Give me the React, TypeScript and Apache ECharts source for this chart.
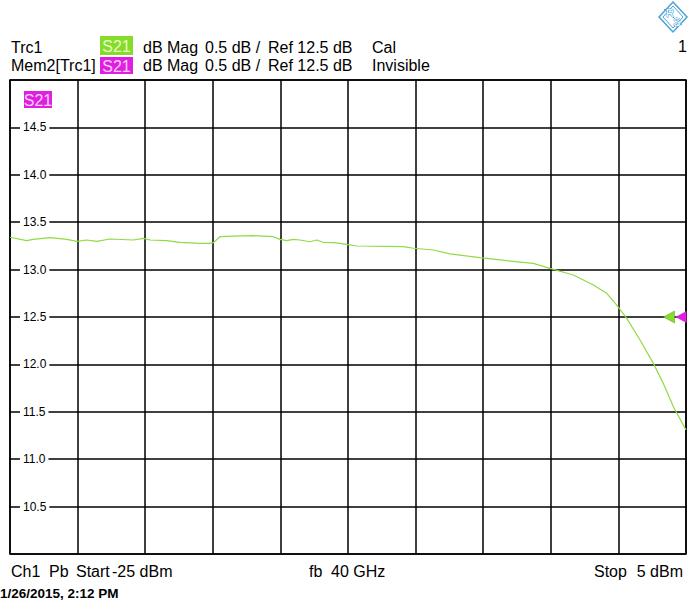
import React, { useEffect, useRef } from "react";
import * as echarts from "echarts";

// ---- data ----
const START_DBM = -25;
const STOP_DBM = 5;
const REF_LEVEL_DB = 12.5;
const Y_TICKS = [10, 10.5, 11, 11.5, 12, 12.5, 13, 13.5, 14, 14.5, 15];

const POWER_DBM = [
  -25.0, -24.26, -23.97, -23.22, -22.48, -22.04, -21.6, -21.15, -20.56, -19.53,
  -19.08, -18.79, -18.05, -17.46, -16.57, -16.12, -15.98, -15.68, -15.09, -14.2,
  -13.31, -13.02, -12.72, -12.43, -12.13, -11.69, -11.39, -11.1, -10.65, -10.36,
  -10.06, -9.61, -7.55, -7.1, -6.21, -5.47, -4.14, -2.96, -1.78, -1.04,
  0.0, 0.89, 1.48, 1.92, 2.37, 2.96, 3.55, 3.99, 4.44, 5.0,
];
const GAIN_DB = [
  13.341, 13.305, 13.319, 13.337, 13.319, 13.298, 13.312, 13.298, 13.323, 13.312,
  13.33, 13.312, 13.305, 13.288, 13.277, 13.277, 13.284, 13.347, 13.354, 13.358,
  13.347, 13.319, 13.305, 13.319, 13.312, 13.294, 13.312, 13.288, 13.284, 13.277,
  13.267, 13.249, 13.242, 13.225, 13.207, 13.165, 13.126, 13.094, 13.066, 13.013,
  12.943, 12.838, 12.75, 12.627, 12.486, 12.257, 12.011, 11.8, 11.554, 11.308,
];

const HEADER_ROW1 = ["Trc1", "S21", "dB Mag", "0.5 dB /", "Ref 12.5 dB", "Cal"];
const HEADER_ROW2 = ["Mem2[Trc1]", "S21", "dB Mag", "0.5 dB /", "Ref 12.5 dB", "Invisible"];
const FOOTER = ["Ch1", "Pb", "Start", "-25 dBm", "fb", "40 GHz", "Stop", "5 dBm"];
const DATE_TEXT = "1/26/2015, 2:12 PM";
const CHANNEL_NO = "1";

const GREEN = "#86dc2a";
const TRACE = "#90da44";
const MAGENTA = "#e020e0";
const LOGO = "#4aa3d6";
const FONT = "'Liberation Sans', Arial, sans-serif";

export default function App() {
  const ref = useRef<HTMLDivElement>(null);
  useEffect(() => {
    if (!ref.current) return;
    const chart = echarts.init(ref.current, undefined, { renderer: "svg" });
    const span = STOP_DBM - START_DBM;
    const txt = (text: string, x: number, y: number, extra: any = {}) => ({
      type: "text",
      x,
      y,
      z: 10,
      style: {
        text,
        fontSize: 16,
        fontFamily: FONT,
        fill: "#000",
        verticalAlign: "middle",
        ...extra,
      },
    });
    const box = (x: number, y: number, w: number, h: number, color: string, textColor: string, label: string) => ({
      type: "group",
      z: 10,
      children: [
        { type: "rect", shape: { x, y, width: w, height: h }, style: { fill: color } },
        txt(label, x + w / 2, y + h / 2 + 0.5, { fill: textColor, align: "center" }),
      ],
    });
    const colX = [11, 102, 143, 205, 268, 372];
    const option: any = {
      animation: false,
      backgroundColor: "#fff",
      grid: {
        left: 10,
        top: 80,
        width: 676,
        height: 474,
        show: true,
        borderColor: "#000",
        borderWidth: 1.5,
        backgroundColor: "#fff",
      },
      xAxis: {
        type: "value",
        min: 0,
        max: span,
        interval: 3,
        axisLine: { show: false },
        axisTick: { show: false },
        axisLabel: { show: false },
        splitLine: { show: true, lineStyle: { color: "#000", width: 1.5 } },
      },
      yAxis: {
        type: "value",
        min: Y_TICKS[0],
        max: Y_TICKS[Y_TICKS.length - 1],
        interval: 0.5,
        axisLine: { show: false },
        axisTick: { show: false },
        axisLabel: {
          inside: true,
          margin: 10,
          showMinLabel: false,
          showMaxLabel: false,
          formatter: (v: number) => v.toFixed(1),
          color: "#000",
          fontSize: 12,
          fontFamily: FONT,
          backgroundColor: "#fff",
          padding: [0, 3],
        },
        splitLine: { show: true, lineStyle: { color: "#000", width: 1.5 } },
      },
      series: [
        {
          type: "line",
          data: POWER_DBM.map((p, i) => [p - START_DBM, GAIN_DB[i]]),
          showSymbol: false,
          lineStyle: { color: TRACE, width: 1.2 },
          z: 5,
          markPoint: {
            silent: true,
            label: { show: false },
            data: [
              {
                coord: [span, REF_LEVEL_DB],
                symbol: "triangle",
                symbolRotate: 90,
                symbolSize: [12, 11],
                symbolOffset: [-17, 0],
                itemStyle: { color: GREEN, borderColor: "#5a9a20", borderWidth: 0.5 },
              },
              {
                coord: [span, REF_LEVEL_DB],
                symbol: "triangle",
                symbolRotate: 90,
                symbolSize: [12, 11],
                symbolOffset: [-5, 0],
                itemStyle: { color: MAGENTA },
              },
            ],
          },
        },
      ],
      graphic: [
        // header row 1
        txt(HEADER_ROW1[0], colX[0], 47),
        box(100, 36, 33, 19, GREEN, "#e4ffc8", HEADER_ROW1[1]),
        txt(HEADER_ROW1[2], colX[2], 47),
        txt(HEADER_ROW1[3], colX[3], 47),
        txt(HEADER_ROW1[4], colX[4], 47),
        txt(HEADER_ROW1[5], colX[5], 47),
        // header row 2
        txt(HEADER_ROW2[0], colX[0], 65),
        box(100, 57, 33, 17, MAGENTA, "#ffd0ff", HEADER_ROW2[1]),
        txt(HEADER_ROW2[2], colX[2], 65),
        txt(HEADER_ROW2[3], colX[3], 65),
        txt(HEADER_ROW2[4], colX[4], 65),
        txt(HEADER_ROW2[5], colX[5], 65),
        // channel number
        txt(CHANNEL_NO, 678, 46),
        // S21 label inside plot
        box(24, 91, 28, 17, MAGENTA, "#ffd0ff", "S21"),
        // footer
        txt(FOOTER[0], 11, 571),
        txt(FOOTER[1], 49, 571),
        txt(FOOTER[2], 76, 571),
        txt(FOOTER[3], 112, 571),
        txt(FOOTER[4], 309, 571),
        txt(FOOTER[5], 331, 571),
        txt(FOOTER[6], 594, 571),
        txt(FOOTER[7], 683, 571, { align: "right" }),
        // date
        txt(DATE_TEXT, 0, 593, { fontSize: 13.5, fontWeight: "bold" }),
        // logo
        {
          type: "group",
          z: 10,
          children: [
            {
              type: "polygon",
              shape: { points: [[673, 2], [687, 17], [673, 32], [659, 17]] },
              style: { fill: "#fff", stroke: LOGO, lineWidth: 1.5 },
            },
            {
              type: "polygon",
              shape: { points: [[673, 6], [683, 17], [673, 28], [663, 17]] },
              style: { fill: "none", stroke: LOGO, lineWidth: 1 },
            },
            {
              type: "line",
              shape: { x1: 664, y1: 9, x2: 682, y2: 25 },
              style: { stroke: LOGO, lineWidth: 1 },
            },
            {
              type: "text",
              x: 670,
              y: 13,
              style: { text: "R", fontSize: 11, fontFamily: FONT, fill: "#fff", stroke: LOGO, lineWidth: 1, align: "center", verticalAlign: "middle" },
            },
            {
              type: "text",
              x: 677,
              y: 22,
              style: { text: "S", fontSize: 11, fontFamily: FONT, fill: "#fff", stroke: LOGO, lineWidth: 1, align: "center", verticalAlign: "middle" },
            },
          ],
        },
      ],
    };
    chart.setOption(option);
    return () => chart.dispose();
  }, []);
  return (
    <div
      ref={ref}
      style={{ position: "fixed", left: 0, top: 0, width: 693, height: 611, background: "#fff" }}
    />
  );
}
